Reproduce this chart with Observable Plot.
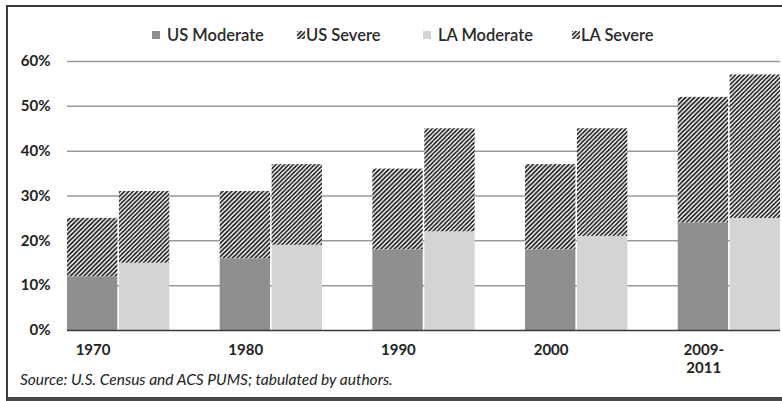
<!DOCTYPE html>
<html><head><meta charset="utf-8">
<script src="https://cdn.jsdelivr.net/npm/d3@7"></script>
<script src="https://cdn.jsdelivr.net/npm/@observablehq/plot@0.6"></script>
<style>
body{margin:0;background:#fff;font-family:Lato,"Open Sans",sans-serif;}
#wrap{position:relative;width:782px;height:401px;overflow:hidden;background:#fff;}
#frame{position:absolute;left:6px;top:5px;width:790px;height:390px;border-left:2px solid #3a3a3a;border-top:2px solid #3a3a3a;border-bottom:5px solid #4a4a4a;box-sizing:content-box;}
#chart{position:absolute;left:0;top:45px;}
.leg{position:absolute;top:25px;font-size:16.5px;font-weight:600;color:#2a2a2a;white-space:nowrap;line-height:20px;}
.leg svg{position:absolute;top:6px;}
#caption{position:absolute;left:20px;top:370px;font-size:15.5px;font-style:italic;color:#222;white-space:nowrap;}
</style>
</head><body>
<svg width="0" height="0" style="position:absolute">
  <defs>
    <pattern id="hUS" patternUnits="userSpaceOnUse" width="4.5" height="4.5">
      <rect width="4.5" height="4.5" fill="#fff"/>
      <path d="M-1,1 L1,-1 M0,4.5 L4.5,0 M3.5,5.5 L5.5,3.5" stroke="#111" stroke-width="1.7"/>
    </pattern>
    <pattern id="hLA" patternUnits="userSpaceOnUse" width="4.3" height="4.3">
      <rect width="4.3" height="4.3" fill="#fff"/>
      <path d="M-1,1 L1,-1 M0,4.3 L4.3,0 M3.3,5.3 L5.3,3.3" stroke="#151515" stroke-width="1.6"/>
    </pattern>
  </defs>
</svg>
<div id="wrap">
  <div id="frame"></div>
  <div id="legend"></div>
  <div id="chart"></div>
  <div id="caption">Source: U.S. Census and ACS PUMS; tabulated by authors.</div>
</div>
<script>
// ---- data (percent) ----
const years = ["1970", "1980", "1990", "2000", "2009-2011"];
const yearLabels = ["1970", "1980", "1990", "2000", "2009-\n2011"];
const usModerate = [12, 16, 18, 18, 24];
const usTotal = [25, 31, 36, 37, 52];     // moderate + severe
const laModerate = [15, 19, 22, 21, 25];
const laTotal = [31, 37, 45, 45, 57];     // moderate + severe
const series = ["US Moderate", "US Severe", "LA Moderate", "LA Severe"];
const yTicks = [0, 10, 20, 30, 40, 50, 60];
const gridTicks = [10, 20, 30, 40, 50, 60];

// ---- table ----
const usRows = [], laRows = [];
years.forEach((yr, i) => {
  usRows.push({year: yr, series: "US Moderate", y1: 0, y2: usModerate[i]});
  usRows.push({year: yr, series: "US Severe", y1: usModerate[i], y2: usTotal[i]});
  laRows.push({year: yr, series: "LA Moderate", y1: 0, y2: laModerate[i]});
  laRows.push({year: yr, series: "LA Severe", y1: laModerate[i], y2: laTotal[i]});
});

const W = 782, H = 335, ML = 67, MR = 2, MT = 16, MB = 50;
const padInner = 0.33;
const step = (W - ML - MR) / (years.length - padInner);
const bw = step * (1 - padInner);
const half = bw / 2;

const colors = ["#8f8f8f", "url(#hUS)", "#d4d4d4", "url(#hLA)"];

const chart = Plot.plot({
  width: W, height: H,
  marginLeft: ML, marginRight: MR, marginTop: MT, marginBottom: MB,
  style: {fontFamily: "Lato, 'Open Sans', sans-serif", background: "transparent", overflow: "visible"},
  x: {type: "band", domain: years, paddingInner: padInner, paddingOuter: 0, axis: null, round: false},
  y: {domain: [0, 60], axis: null},
  color: {domain: series, range: colors},
  marks: [
    Plot.ruleY(gridTicks, {stroke: "#9a9a9a", strokeWidth: 1.5}),
    Plot.barY(usRows, {x: "year", y1: "y1", y2: "y2", fill: "series", insetRight: half + 0.8}),
    Plot.barY(laRows, {x: "year", y1: "y1", y2: "y2", fill: "series", insetLeft: half + 0.8}),
    Plot.ruleY([0], {stroke: "#3a3a3a", strokeWidth: 1.6}),
    Plot.text(yTicks, {y: d => d, text: d => d + "%", frameAnchor: "left", textAnchor: "end", dx: -17,
      fontSize: 15, fontWeight: "bold", fill: "#222"}),
    Plot.text(years, {x: d => d, text: (d, i) => yearLabels[i], frameAnchor: "bottom", lineAnchor: "top",
      dy: 12, dx: -bw / 4, lineHeight: 1.2, fontSize: 15, fontWeight: "bold", fill: "#222"})
  ]
});
document.getElementById("chart").appendChild(chart);

// ---- legend ----
const legendPos = [152, 297, 423, 572];
const legend = document.getElementById("legend");
series.forEach((s, i) => {
  const d = document.createElement("div");
  d.className = "leg";
  d.style.left = legendPos[i] + "px";
  d.innerHTML = `<svg width="8" height="8"><rect width="8" height="8" fill="${colors[i]}"/></svg><span style="margin-left:${i % 2 ? 9 : 15}px">${s}</span>`;
  legend.appendChild(d);
});
</script>
</body></html>
